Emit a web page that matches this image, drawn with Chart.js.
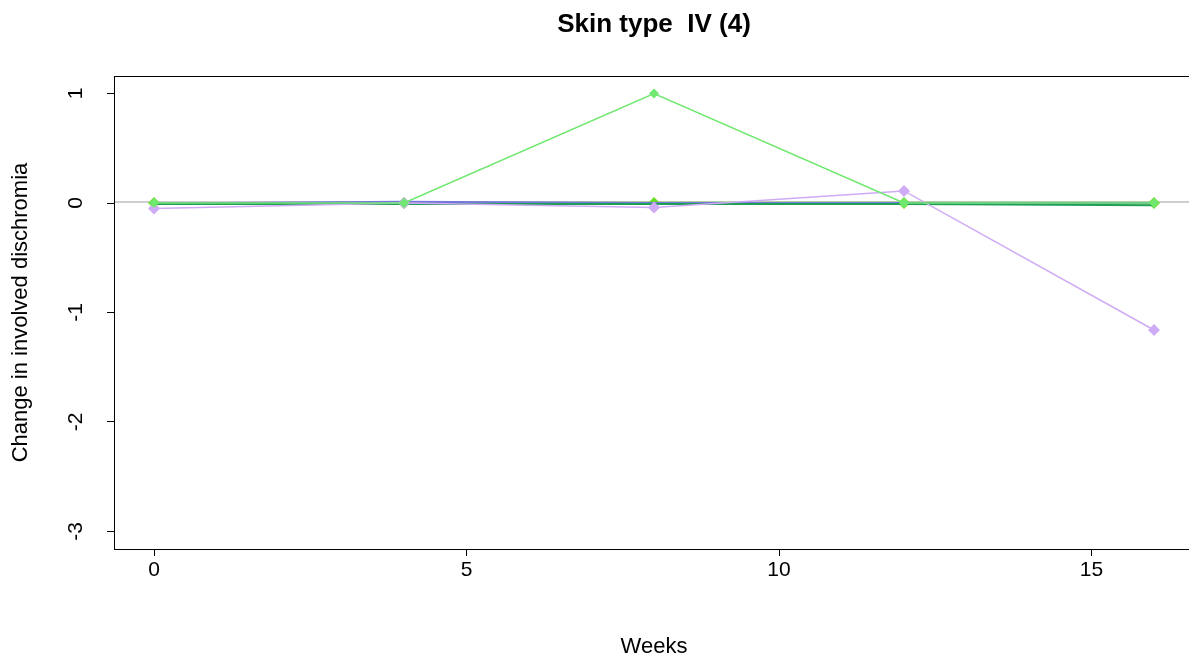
<!DOCTYPE html>
<html>
<head>
<meta charset="utf-8">
<script src="https://cdn.jsdelivr.net/npm/chart.js@4.4.1/dist/chart.umd.min.js"></script>
<style>
  html, body { margin: 0; padding: 0; background: #fff; overflow: hidden; }
  #wrap { width: 1200px; height: 660px; position: relative; }
</style>
</head>
<body>
<div id="wrap"><canvas id="grafico"></canvas></div>
<script>
// dados
const semanas = [0, 4, 8, 12, 16];
const serieLilas = [-0.05, 0.0, -0.04, 0.11, -1.16];
const serieVerdeClaro = [0, 0, 1, 0, 0];
const serieAzul = [-0.005, 0.012, 0.0, 0.0, 0.0];
const serieVerdeEscuro = [-0.01, -0.01, -0.01, -0.01, -0.02];
const serieVerde = [0, 0, 0, 0, 0];
const ticksX = [0, 5, 10, 15];
const ticksY = [-3, -2, -1, 0, 1];

const titulo = 'Skin type  IV (4)';
const fonte = "'Liberation Sans', Arial, sans-serif";

function pontos(valores) {
    return semanas.map(function (s, i) { return { x: s, y: valores[i] }; });
}

function serie(valores, cor, raio, largura) {
    return {
        data: pontos(valores),
        borderColor: cor,
        backgroundColor: cor,
        borderWidth: largura,
        pointStyle: 'rectRot',
        pointRadius: raio,
        pointHoverRadius: raio,
        pointBorderWidth: 0
    };
}

// linha cinza no zero, caixa e titulo
const extras = {
    id: 'extras',
    beforeDatasetsDraw(chart) {
        const ctx = chart.ctx;
        const a = chart.chartArea;
        const y0 = chart.scales.y.getPixelForValue(0);
        ctx.save();
        ctx.strokeStyle = '#bebebe';
        ctx.lineWidth = 1.5;
        ctx.beginPath();
        ctx.moveTo(a.left, y0 - 1);
        ctx.lineTo(a.right, y0 - 1);
        ctx.stroke();
        ctx.restore();
    },
    afterDraw(chart) {
        const ctx = chart.ctx;
        const a = chart.chartArea;
        ctx.save();
        ctx.strokeStyle = '#000';
        ctx.lineWidth = 1;
        ctx.strokeRect(a.left + 0.5, a.top + 0.5, a.right - a.left, a.bottom - a.top);
        ctx.fillStyle = '#000';
        ctx.font = 'bold 26px ' + fonte;
        ctx.textAlign = 'center';
        ctx.textBaseline = 'middle';
        ctx.fillText(titulo, (a.left + a.right) / 2, 25);
        ctx.restore();
    }
};

const verde = serie(serieVerde, '#66dd22', 6, 2.5);
// primeiro trecho fica escondido sob a linha verde escura, como no original
verde.segment = {
    borderColor: function (ctx) { return ctx.p0DataIndex === 0 ? 'rgba(0,0,0,0)' : undefined; }
};

const grafico = document.getElementById('grafico');
new Chart(grafico, {
    type: 'line',
    data: {
        datasets: [
            serie(serieVerdeClaro, '#70e870', 5, 1.5),
            serie(serieLilas, '#cfaaf5', 6, 1.5),
            serie(serieVerdeEscuro, '#1f9e55', 0, 2),
            serie(serieAzul, '#7777dd', 0, 2),
            verde
        ]
    },
    options: {
        responsive: true,
        maintainAspectRatio: false,
        animation: false,
        layout: { padding: { top: 76, right: 5, left: 0, bottom: 0 } },
        plugins: {
            legend: { display: false },
            tooltip: { enabled: false }
        },
        scales: {
            x: {
                type: 'linear',
                min: -0.64,
                max: 16.64,
                afterBuildTicks: function (s) { s.ticks = ticksX.map(function (v) { return { value: v }; }); },
                afterFit: function (s) { s.height = 111; },
                grid: { drawOnChartArea: false, drawTicks: true, tickLength: 7, color: '#000' },
                border: { display: false },
                ticks: {
                    color: '#000',
                    font: { family: fonte, size: 21 },
                    padding: 2,
                    maxRotation: 0
                },
                title: {
                    display: true,
                    text: 'Weeks',
                    color: '#000',
                    font: { family: fonte, size: 22 },
                    padding: { top: 0, bottom: 0 }
                }
            },
            y: {
                min: -3.16,
                max: 1.16,
                afterBuildTicks: function (s) { s.ticks = ticksY.map(function (v) { return { value: v }; }); },
                afterFit: function (s) { s.width = 114; },
                grid: { drawOnChartArea: false, drawTicks: true, tickLength: 7, color: '#000' },
                border: { display: false },
                ticks: {
                    color: '#000',
                    font: { family: fonte, size: 21 },
                    padding: 21,
                    minRotation: 90,
                    maxRotation: 90,
                    crossAlign: 'center'
                },
                title: {
                    display: true,
                    text: 'Change in involved dischromia',
                    color: '#000',
                    font: { family: fonte, size: 22 },
                    padding: { top: 8, bottom: 0 }
                }
            }
        }
    },
    plugins: [extras]
});
</script>
</body>
</html>
